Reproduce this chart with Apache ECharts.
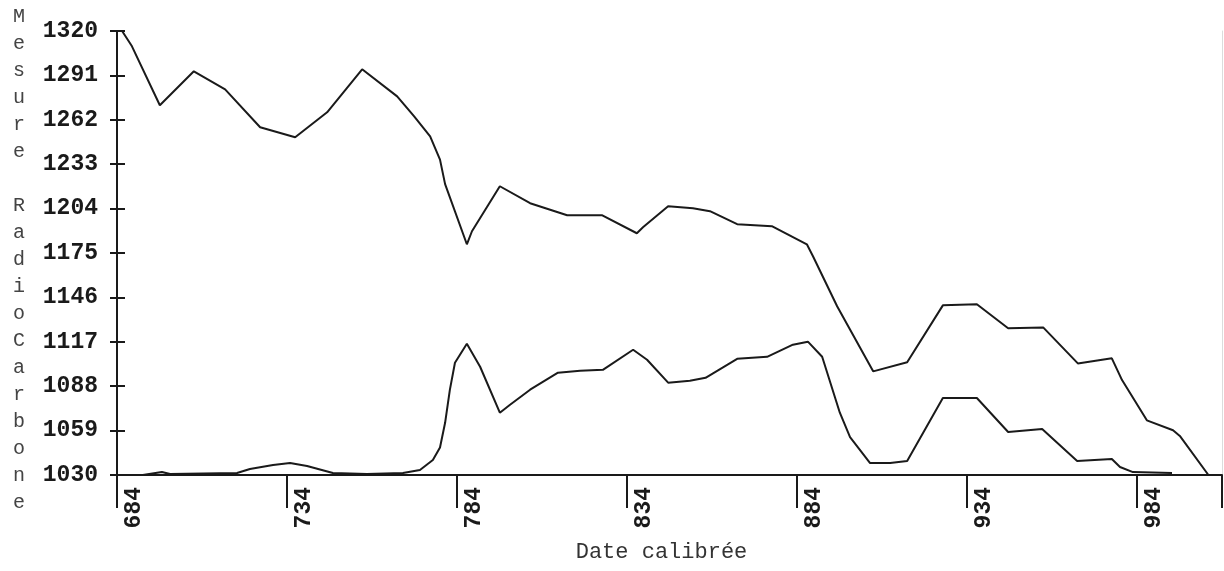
<!DOCTYPE html>
<html>
<head>
<meta charset="utf-8">
<script src="https://cdn.jsdelivr.net/npm/echarts@6/dist/echarts.min.js"></script>
<style>
    html, body { margin: 0; padding: 0; background: #fff; }
    #chart { width: 1224px; height: 571px; }
</style>
</head>
<body>
<div id="chart"></div>
<script>
    // courbe haute
    var upperDates = [684, 685.5, 688.4, 696.6, 706.6, 715.8, 726.1, 736.4, 745.8, 756.1, 766.4, 771.4, 776.1, 779, 780.5,
        786.9, 788.4, 796.6, 805.5, 816.4, 826.6, 836.9, 838.7, 846.1, 853.4, 858.4, 866.4, 876.6, 886.9, 888.7,
        895.8, 906.4, 916.4, 926.9, 936.9, 946.1, 956.4, 966.6, 976.6, 979.6, 986.9, 994.6, 996.6, 1005];
    var upperValues = [1320, 1320, 1310, 1271.5, 1293.7, 1281.9, 1257.1, 1250.6, 1266.9, 1295, 1277.3, 1264.3, 1251.2, 1236, 1220,
        1180.7, 1189.2, 1218.6, 1207.5, 1199.7, 1199.7, 1187.9, 1191.8, 1205.5, 1204.2, 1202.3, 1193.8, 1192.5, 1180.7, 1172.9,
        1140.2, 1097.7, 1103.6, 1140.8, 1141.5, 1125.8, 1126.4, 1102.9, 1106.2, 1092, 1065.7, 1059.2, 1055.5, 1030];

    // courbe basse
    var lowerDates = [691.6, 697.2, 699.6, 719.3, 723.1, 729.9, 734.9, 739.9, 747.5, 757.5, 768.1, 773.1, 776.9, 779, 780.5,
        781.9, 783.4, 786.9, 790.8, 796.6, 799.6, 805.5, 813.7, 820.2, 826.9, 835.8, 839.9, 846.1, 852.5, 857.1,
        866.4, 875.2, 882.8, 887.2, 891.4, 896.6, 899.6, 905.5, 911.4, 916.4, 926.9, 936.9, 946.1, 956.1, 966.4,
        976.6, 979, 982.8, 994.3];
    var lowerValues = [1030, 1032, 1030.7, 1031.3, 1033.9, 1036.5, 1037.8, 1035.9, 1031.3, 1030.7, 1031.3, 1033.3, 1039.8, 1048, 1064.1,
        1085.6, 1103.3, 1115.7, 1100.7, 1070.7, 1075.9, 1085.7, 1096.8, 1098.1, 1098.7, 1111.8, 1105.3, 1090.3, 1091.6, 1093.5,
        1105.9, 1107.2, 1115.1, 1117.1, 1107.2, 1070.7, 1054.8, 1037.8, 1037.8, 1039.1, 1080.3, 1080.3, 1058.1, 1060, 1039.1,
        1040.4, 1035.2, 1031.9, 1031.3];

    var xTicks = [684, 734, 784, 834, 884, 934, 984, 1009];
    var xLabels = [684, 734, 784, 834, 884, 934, 984];
    var yMin = 1030, yMax = 1320, yStep = 29;

    function pairs(xs, ys) {
        return xs.map(function (x, i) { return [x, ys[i]]; });
    }

    var mono = '"Liberation Mono", "DejaVu Sans Mono", monospace';
    var ink = '#1a1a1a';
    var plain = function (v) { return String(v); };

    // titre vertical, une lettre par ligne (ligne vide en tete pour descendre un peu le bloc)
    var yName = '{s|}\n' + 'Mesure RadioCarbone'.split('').join('\n');

    var chart = echarts.init(document.getElementById('chart'));
    chart.setOption({
        animation: false,
        grid: { left: 117, right: 2, top: 31, bottom: 96, outerBoundsMode: 'none', containLabel: false },
        xAxis: {
            type: 'value',
            min: 684,
            max: 1009,
            interval: 50,
            name: 'Date calibrée',
            nameLocation: 'middle',
            nameGap: 66,
            nameTextStyle: { fontFamily: mono, fontSize: 22, color: '#333', padding: [0, 16, 0, 0] },
            splitLine: { show: false },
            axisLine: { lineStyle: { color: ink, width: 2 } },
            axisTick: { length: 33, inside: false, customValues: xTicks, lineStyle: { color: ink, width: 2 } },
            axisLabel: {
                customValues: xLabels,
                formatter: plain,
                rotate: 90,
                margin: 12,
                verticalAlign: 'top',
                padding: [6, 0, 0, 0],
                fontFamily: mono,
                fontWeight: 'bold',
                fontSize: 23,
                color: ink
            }
        },
        yAxis: [{
            type: 'value',
            min: yMin,
            max: yMax,
            interval: yStep,
            name: yName,
            nameLocation: 'middle',
            nameRotate: 0,
            nameGap: 92,
            nameTextStyle: {
                fontFamily: mono, fontSize: 20, lineHeight: 27, color: '#444',
                rich: { s: { fontSize: 10, lineHeight: 14 } }
            },
            splitLine: { show: false },
            axisLine: { show: true, lineStyle: { color: ink, width: 2 } },
            axisTick: { length: 7, lineStyle: { color: ink, width: 2 } },
            axisLabel: { margin: 19, formatter: plain, fontFamily: mono, fontWeight: 'bold', fontSize: 23, color: ink }
        }, {
            type: 'value',
            position: 'left',
            min: yMin,
            max: yMax,
            interval: yStep,
            splitLine: { show: false },
            axisLine: { show: false },
            axisTick: { show: true, inside: true, length: 8, lineStyle: { color: ink, width: 2 } },
            axisLabel: { show: false }
        }, {
            type: 'value',
            position: 'right',
            min: yMin,
            max: yMax,
            splitLine: { show: false },
            axisLine: { show: true, lineStyle: { color: '#dcdcdc', width: 1 } },
            axisTick: { show: false },
            axisLabel: { show: false }
        }],
        series: [{
            name: 'haute',
            type: 'line',
            data: pairs(upperDates, upperValues),
            showSymbol: false,
            lineStyle: { color: ink, width: 2 }
        }, {
            name: 'basse',
            type: 'line',
            data: pairs(lowerDates, lowerValues),
            showSymbol: false,
            lineStyle: { color: ink, width: 2 }
        }]
    });
</script>
</body>
</html>
